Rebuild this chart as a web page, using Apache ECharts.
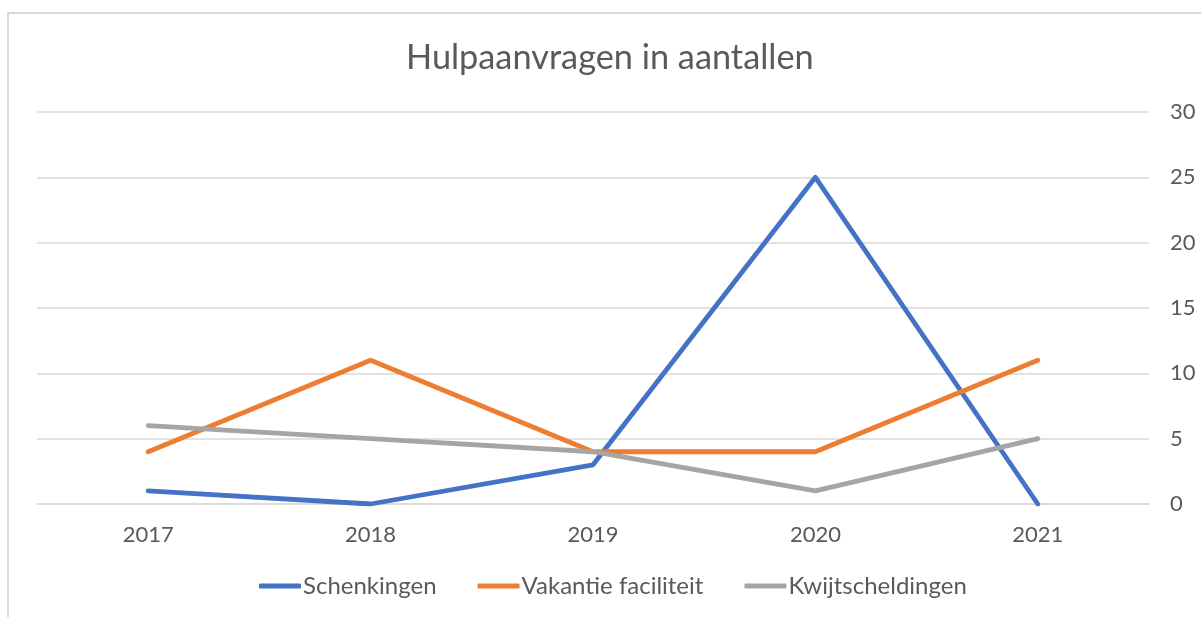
<!DOCTYPE html>
<html lang="nl">
<head>
  <meta charset="UTF-8">
  <title>Hulpaanvragen in aantallen</title>
  <style>
    * { margin: 0; padding: 0; box-sizing: border-box; }
    body { width: 1201px; height: 617px; overflow: hidden; background: #fff; position: relative; }
    .frame {
      position: absolute; left: 7px; top: 12px; width: 1300px; height: 700px;
      border: 2px solid #d9d9d9;
    }
    #chart { position: absolute; left: 0; top: 0; width: 1201px; height: 617px; }
  </style>
</head>
<body>
  <div class="frame"></div>
  <div id="chart"></div>
  <script src="https://cdn.jsdelivr.net/npm/echarts@6/dist/echarts.min.js"></script>
  <script>
    const years = ['2017', '2018', '2019', '2020', '2021'];
    const schenkingen = [1, 0, 3, 25, 0];
    const vakantie = [4, 11, 4, 4, 11];
    const kwijtscheldingen = [6, 5, 4, 1, 5];

    const font = 'Lato, "Open Sans", sans-serif';
    const chart = echarts.init(document.getElementById('chart'));

    const line = (name, data, color) => ({
      name, type: 'line', data,
      symbol: 'none',
      lineStyle: { width: 4.8, color, cap: 'round', join: 'round' },
      itemStyle: { color }
    });

    chart.setOption({
      animation: false,
      title: {
        text: 'Hulpaanvragen in aantallen',
        left: 401,
        top: 36,
        textStyle: { color: '#595959', fontSize: 34.3, fontWeight: 'normal', fontFamily: font }
      },
      legend: {
        bottom: 14,
        left: 254,
        icon: 'roundRect',
        itemWidth: 42,
        itemHeight: 5,
        itemGap: 41,
        textStyle: { color: '#595959', fontSize: 24, fontFamily: font, padding: [0, 0, 0, -3] }
      },
      grid: { left: 37, right: 52, top: 112, bottom: 113, containLabel: false },
      xAxis: {
        type: 'category',
        data: years,
        boundaryGap: true,
        axisLine: { show: true, lineStyle: { color: '#d9d9d9', width: 1.5 } },
        axisTick: { show: false },
        axisLabel: { color: '#595959', fontSize: 22, margin: 20, fontFamily: font }
      },
      yAxis: {
        type: 'value',
        position: 'right',
        min: 0, max: 30, interval: 5,
        axisLine: { show: false },
        axisTick: { show: false },
        splitLine: { lineStyle: { color: '#d9d9d9', width: 1.5 } },
        axisLabel: { color: '#595959', fontSize: 22, margin: 21, fontFamily: font }
      },
      series: [
        line('Schenkingen', schenkingen, '#4472C4'),
        line('Vakantie faciliteit', vakantie, '#ED7D31'),
        line('Kwijtscheldingen', kwijtscheldingen, '#A5A5A5')
      ]
    });
  </script>
</body>
</html>
